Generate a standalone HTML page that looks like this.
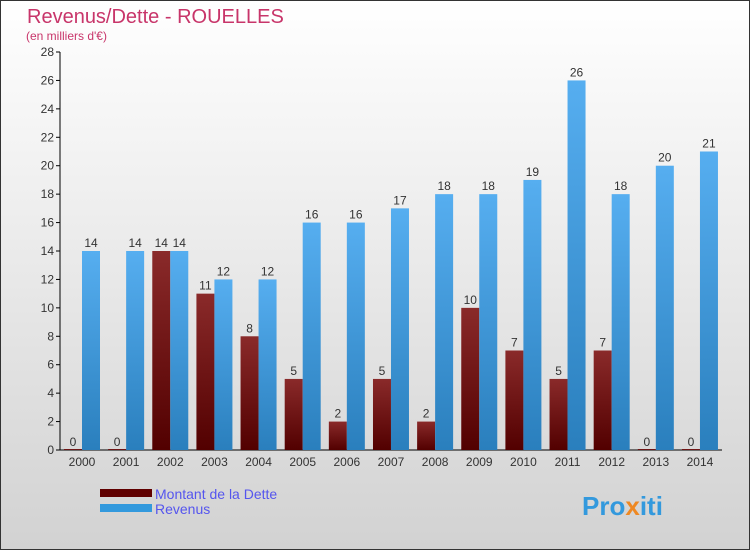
<!DOCTYPE html>
<html><head><meta charset="utf-8"><style>
body{margin:0;width:750px;height:550px;overflow:hidden;font-family:"Liberation Sans",sans-serif}
</style></head><body>
<svg width="750" height="550" xmlns="http://www.w3.org/2000/svg">
<defs>
<linearGradient id="bg" x1="0" y1="0" x2="0" y2="1"><stop offset="0" stop-color="#ffffff"/><stop offset="1" stop-color="#d2d2d2"/></linearGradient>
<linearGradient id="gd" x1="0" y1="0" x2="0" y2="1"><stop offset="0" stop-color="#8a2a2a"/><stop offset="1" stop-color="#520000"/></linearGradient>
<linearGradient id="gr" x1="0" y1="0" x2="0" y2="1"><stop offset="0" stop-color="#56aef0"/><stop offset="1" stop-color="#2a7fbd"/></linearGradient>
</defs>
<rect x="0.5" y="0.5" width="749" height="549" fill="url(#bg)" stroke="#333"/>
<text x="27" y="23" font-size="20" fill="#c8356a">Revenus/Dette - ROUELLES</text>
<text x="26" y="40" font-size="12" fill="#c8356a">(en milliers d'€)</text>
<g id="axes"></g>
<g id="bars"></g>
<rect x="100" y="489" width="52" height="8" fill="#600000"/>
<text x="155" y="499" font-size="14" fill="#5555ee">Montant de la Dette</text>
<rect x="100" y="504" width="52" height="8" fill="#3399dd"/>
<text x="155" y="514" font-size="14" fill="#5555ee">Revenus</text>
<text x="582" y="515" font-size="26" font-weight="bold" fill="#3399dd">Pro<tspan fill="#ee8822">x</tspan>iti</text>
</svg>
<script>
const years=["2000","2001","2002","2003","2004","2005","2006","2007","2008","2009","2010","2011","2012","2013","2014"];
const dette=[0,0,14,11,8,5,2,5,2,10,7,5,7,0,0];
const revenus=[14,14,14,12,12,16,16,17,18,18,19,26,18,20,21];
const yTicks=[0,2,4,6,8,10,12,14,16,18,20,22,24,26,28];
const NS="http://www.w3.org/2000/svg";
const y0=450,y1=52,yMax=28,x0=82,step=44.14,bw=18;
const Y=v=>y0-(v/yMax)*(y0-y1);
const X=i=>x0+i*step;
function mk(t,a,p,txt){const e=document.createElementNS(NS,t);for(const k in a)e.setAttribute(k,a[k]);if(txt!==undefined)e.textContent=txt;p.appendChild(e);return e;}
const ax=document.getElementById('axes'),bg=document.getElementById('bars');
const yl=mk('line',{x1:60,x2:60,y1:y1,y2:y0,stroke:'#000'},ax);


const xl=mk('line',{x1:60,x2:722,y1:y0,y2:y0,stroke:'#000'},ax);


yTicks.forEach(v=>{
 mk('line',{x1:56,x2:60,y1:Y(v),y2:Y(v),stroke:'#000'},ax);
 const t=mk('text',{x:54,y:Y(v)+4,'font-size':12,fill:'#333','text-anchor':'end'},ax,v);
 
 
});
years.forEach((yr,i)=>{
 const cx=X(i);
 const t=mk('text',{x:cx,y:466,'font-size':12,fill:'#333','text-anchor':'middle'},ax,yr);
 
 
 const d=dette[i],r=revenus[i];
 const bd=mk('rect',{x:cx-bw,y:Y(d)-(d?0:1),width:bw,height:Math.max(1,y0-Y(d)),fill:'url(#gd)'},bg);
 
 
 const br=mk('rect',{x:cx,y:Y(r),width:bw,height:y0-Y(r),fill:'url(#gr)'},bg);
 
 
 const ld=mk('text',{x:cx-bw/2,y:Y(d)-4,'font-size':12,fill:'#333','text-anchor':'middle'},bg,d);
 
 
 const lr=mk('text',{x:cx+bw/2,y:Y(r)-4,'font-size':12,fill:'#333','text-anchor':'middle'},bg,r);
 
 
});
</script>
</body></html>
